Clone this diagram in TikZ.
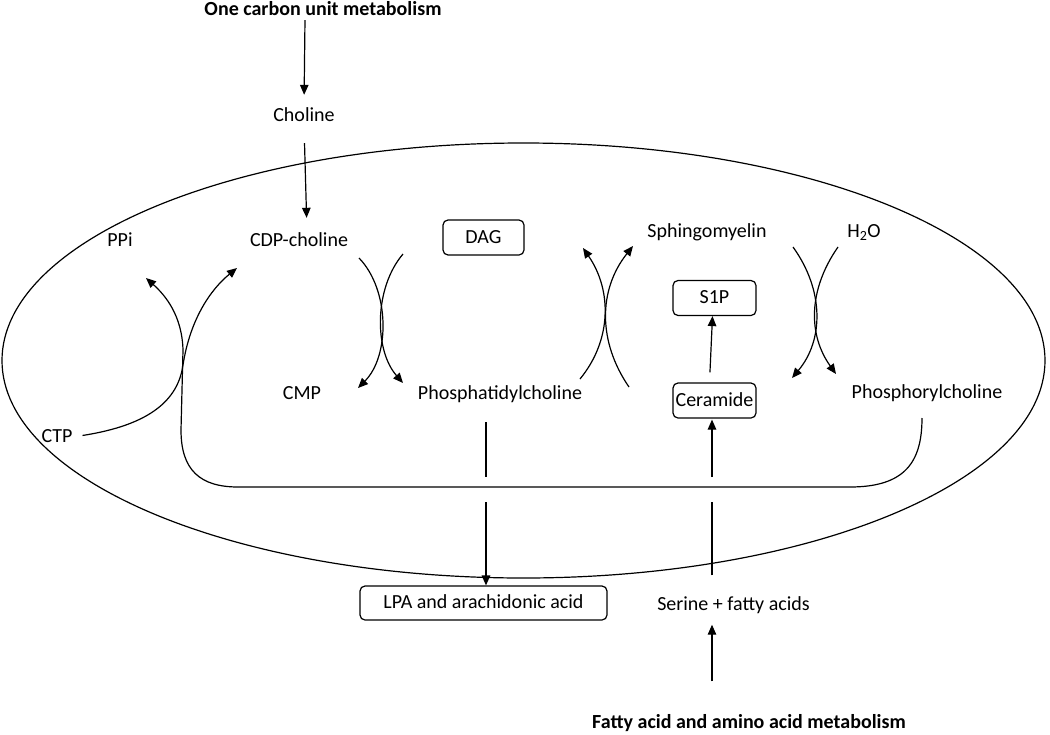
\documentclass[tikz,border=0pt]{standalone}
\usepackage{fontspec}
\setmainfont{Carlito}
\usetikzlibrary{arrows.meta}
\begin{document}
\begin{tikzpicture}[x=1pt,y=-1pt,
  lbl/.style={font=\fontsize{20}{24}\selectfont, inner sep=0pt, text height=14pt, text depth=3pt},
  ttl/.style={font=\fontsize{20}{24}\selectfont\bfseries, inner sep=0pt, text height=14pt, text depth=3pt},
  box/.style={lbl, draw, rounded corners=5pt, line width=1.2pt},
  ln/.style={line width=1.2pt},
  arr/.style={ln, -{Triangle[length=10pt,width=8.5pt]}},
]
\useasboundingbox (0,0) rectangle (1050,734);
% cell
\draw[ln] (523.5,360.5) ellipse [x radius=521.5, y radius=217.5];

% labels
\node[ttl] (onec) at (323,10) {One carbon unit metabolism};
\node[lbl] (chol) at (304,116) {Choline};
\node[lbl] (cdp) at (299,241) {CDP-choline};
\node[lbl] (ppi) at (120,241) {PPi};
\node[box, minimum width=81pt, minimum height=35pt] (dag) at (483.5,237.5) {DAG};
\node[lbl] (sm) at (707,232) {Sphingomyelin};
\node[lbl] (h2o) at (864,232) {H\textsubscript{2}O};
\node[box, minimum width=83pt, minimum height=35pt] (s1p) at (714.5,298) {S1P};
\node[lbl] (cmp) at (302,394) {CMP};
\node[lbl] (pc) at (500,394) {Phosphatidylcholine};
\node[box, minimum width=83pt, minimum height=35pt] (cer) at (714.5,400.5) {Ceramide};
\node[lbl] (pcho) at (927,393) {Phosphorylcholine};
\node[lbl] (ctp) at (57,437) {CTP};
\node[box, minimum width=247pt, minimum height=34pt] (lpa) at (483.5,603) {LPA and arachidonic acid};
\node[lbl] (ser) at (733.5,605) {Serine + fatty acids};
\node[ttl, anchor=west] (fam) at (592,723) {Fatty acid and amino acid metabolism};

% free curve ends
\coordinate (cdpT) at (237,268);
\coordinate (ppiT) at (146,278);
\coordinate (pchoA) at (922,418);
\coordinate (c1a) at (359,258);
\coordinate (c1b) at (358,388);
\coordinate (c2a) at (403,254);
\coordinate (c2b) at (403,383);
\coordinate (s1a) at (580,379);
\coordinate (s1b) at (583,248);
\coordinate (s2a) at (629,387);
\coordinate (s2b) at (633,246);
\coordinate (h1a) at (793,247);
\coordinate (h1b) at (792,378);
\coordinate (h2a) at (838,247);
\coordinate (h2b) at (836,374);
\coordinate (pcA) at (486,477);
\coordinate (pcB) at (486,502);
\coordinate (serA) at (712,502);
\coordinate (serB) at (712,477);

% straight arrows
\draw[arr, shorten <=1.5pt, shorten >=12.5pt] ([xshift=-18pt]onec.south) -- (chol.north);
\draw[arr, shorten <=18.5pt, shorten >=14.5pt] (chol.south) -- ([xshift=8pt]cdp.north);
\draw[ln, shorten <=19.5pt] (pcA |- pc.south) -- (pcA);
\draw[arr] (pcB) -- (pcB |- lpa.north);
\draw[ln, shorten <=21pt] (serA |- ser.north) -- (serA);
\draw[arr, shorten >=1pt] (serB) -- (serB |- cer.south);
\draw[arr, shorten <=10pt] ([xshift=-5pt]cer.north) -- ([xshift=-2pt]s1p.south);
\draw[arr, shorten <=33pt, shorten >=11pt] (serA |- fam.north) -- (serA |- ser.south);

% CTP -> CDP-choline
\draw[arr, shorten <=10pt] (ctp.east) .. controls (150,425) and (178,400) .. (183,365)
  .. controls (190,320) and (210,290) .. (cdpT);
% phosphorylcholine loop back to PPi
\draw[arr] (pchoA) .. controls (922,462) and (905,487) .. (850,487) -- (238,487)
  .. controls (200,487) and (181,470) .. (181,430) -- (183,350)
  .. controls (182,315) and (165,295) .. (ppiT);

% crossing reaction arrows
\draw[arr] (c1a) .. controls (390,290) and (390,356) .. (c1b);
\draw[arr] (c2a) .. controls (374,288) and (374,350) .. (c2b);
\draw[arr] (s1a) .. controls (612,340) and (612,290) .. (s1b);
\draw[arr] (s2a) .. controls (598,342) and (598,290) .. (s2b);
\draw[arr] (h1a) .. controls (824,290) and (824,340) .. (h1b);
\draw[arr] (h2a) .. controls (808,290) and (808,335) .. (h2b);
\end{tikzpicture}
\end{document}
